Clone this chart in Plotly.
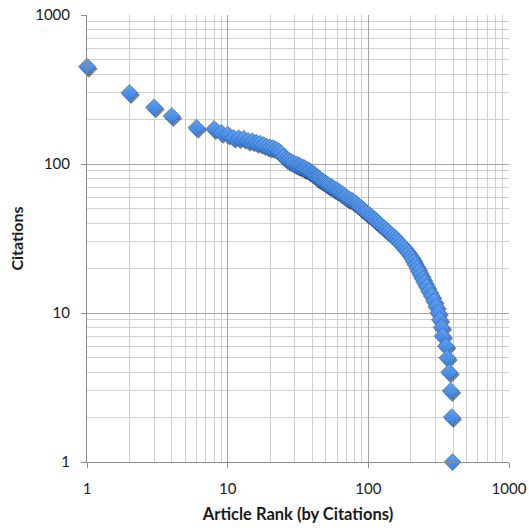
import plotly.graph_objects as go

# Article rank (ties share a rank) and citation counts
ranks = [1, 2, 3, 4, 6, 8, 9, 10, 11, 12, 13, 14, 15, 16, 17, 18, 19, 20,
         21, 22, 23, 24, 25, 26, 27, 28, 29, 30,
         31, 32, 32, 33, 34, 35, 35, 36, 37, 38, 38, 39, 40, 40, 41, 42, 42, 43, 43,
         44, 45, 46, 47, 48, 49, 50, 51, 52, 53, 55, 56, 57, 59, 60, 62, 63, 65, 66,
         68, 69, 71, 73, 76, 78, 80, 82, 84, 86, 88, 90, 92, 95, 97, 100, 103, 106,
         109, 112, 115, 118, 122, 126, 130, 134, 139, 144, 149, 154, 159, 164, 170,
         176, 182, 188, 194, 200, 206, 211, 217, 223, 229, 236, 243, 251, 260, 270,
         282, 293, 304, 314, 322, 332, 337, 356, 364, 376, 385, 391, 397]
citations = [450, 300, 240, 210, 175, 172, 162, 158, 150, 149, 148, 143, 142, 139,
             137, 134, 131, 129, 128, 125, 122, 118, 112, 108, 106, 104, 102, 100,
             99, 98, 97, 96, 95, 94, 93, 92, 91, 90, 89, 88, 87, 86, 85, 84, 83, 82, 81,
             80, 79, 78, 77, 76, 75, 74, 73, 72, 71, 70, 69, 68, 67, 66, 65, 64, 63, 62,
             61, 60, 59, 58, 57, 56, 55, 54, 53, 52, 51, 50, 49, 48, 47, 46, 45, 44,
             43, 42, 41, 40, 39, 38, 37, 36, 35, 34, 33, 32, 31, 30, 29,
             28, 27, 26, 25, 24, 23, 22, 21, 20, 19, 18, 17, 16, 15, 14,
             13, 12, 11, 10, 9, 8, 7, 6, 5, 4, 3, 2, 1]

tick_vals = [1, 10, 100, 1000]
tick_text = ["1", "10", "100", "1000"]

FONT = "Lato, 'Open Sans', sans-serif"

fig = go.Figure()

# drop shadow (same data on hidden, slightly shifted axes)
fig.add_trace(go.Scatter(
    x=ranks, y=citations, mode="markers", xaxis="x", yaxis="y",
    marker=dict(symbol="diamond", size=13.5, color="rgba(15,25,45,0.55)",
                line=dict(width=0)),
    cliponaxis=False, hoverinfo="skip", showlegend=False))

fig.add_trace(go.Scatter(
    x=ranks, y=citations, mode="markers", xaxis="x2", yaxis="y2",
    marker=dict(symbol="diamond", size=13, color="#62a2f2",
                gradient=dict(type="vertical", color="#3a7ed8"),
                line=dict(width=0.6, color="#2c66b4")),
    cliponaxis=False, showlegend=False))

axis_common = dict(
    type="log", showline=True, linecolor="#8c8c8c", linewidth=1,
    ticks="outside", ticklen=5, tickcolor="#8c8c8c",
    tickvals=tick_vals, ticktext=tick_text, automargin=False,
    showgrid=True, gridcolor="#a4a4a4", gridwidth=1, zeroline=False,
    minor=dict(dtick="D1", showgrid=True, gridcolor="#d0d0d0", gridwidth=1, ticks=""),
    tickfont=dict(family=FONT, size=15, color="#1a1a1a"),
)

shift_x = 1.8 / 140.7
shift_y = 2.2 / 149.3

fig.update_layout(
    width=529, height=528,
    margin=dict(l=87, r=20, t=15, b=66),
    paper_bgcolor="white", plot_bgcolor="white",
    font=dict(family=FONT, size=15, color="#1a1a1a"),
    xaxis=dict(axis_common, range=[-shift_x, 3 - shift_x], showline=False, ticks="",
               showticklabels=False, showgrid=False,
               minor=dict(showgrid=False)),
    yaxis=dict(axis_common, range=[shift_y, 3 + shift_y], showline=False, ticks="",
               showticklabels=False, showgrid=False,
               minor=dict(showgrid=False)),
    xaxis2=dict(axis_common, range=[0, 3], overlaying="x", side="bottom",
                ticklabelstandoff=8,
                title=dict(text="<b>Article Rank (by Citations)</b>", standoff=12,
                           font=dict(family=FONT, size=16.5, color="#1a1a1a"))),
    yaxis2=dict(axis_common, range=[0, 3], overlaying="y", side="left",
                ticklabelstandoff=8,
                title=dict(text="<b>Citations</b>", standoff=7,
                           font=dict(family=FONT, size=16, color="#1a1a1a"))),
)

fig.write_html("out.html", config={"displayModeBar": False},
               post_script="document.body.style.margin='0';"
                           "document.body.style.overflow='hidden';")
